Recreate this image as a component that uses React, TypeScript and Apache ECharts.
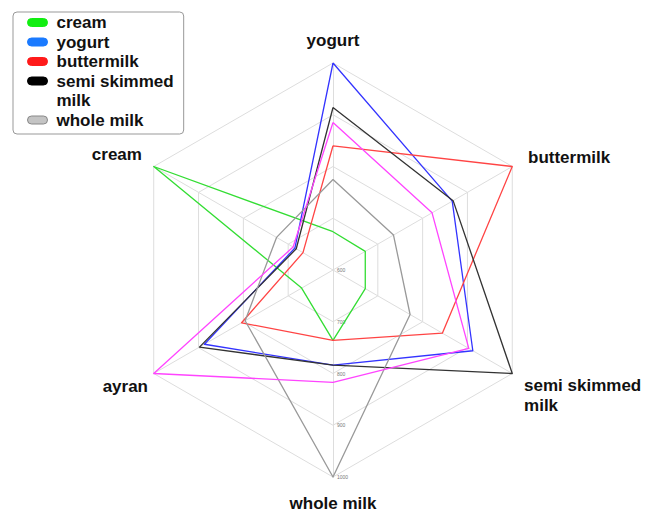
import React, { useEffect, useRef } from "react";
import * as echarts from "echarts";

const indicators = ["yogurt", "cream", "ayran", "whole milk", "semi skimmed\nmilk", "buttermilk"];
const tickMin = 600;
const tickMax = 1000;
const tickInterval = 100;

const seriesNames = ["cream", "yogurt", "buttermilk", "semi skimmed\nmilk", "whole milk", "ayran"];
// order of values: yogurt, cream, ayran, whole milk, semi skimmed milk, buttermilk
const creamValues = [674, 1000, 670, 736, 672, 672];
const yogurtValues = [1000, 685, 887, 784, 912, 866];
const buttermilkValues = [840, 667, 804, 736, 844, 1000];
const semiSkimmedValues = [914, 682, 898, 784, 1000, 868];
const wholeMilkValues = [775, 726, 796, 1000, 772, 735];
const ayranValues = [885, 689, 1000, 817, 903, 821];

const lineColors = ["#33dd33", "#3333ff", "#ff4444", "#333333", "#999999", "#ff44ff"];
const legendColors = ["#11ee11", "#1a7aff", "#ff1a1a", "#000000", "#c4c4c4"];

// per-indicator name placement
const nameGaps = [13, 13.6, 6.6, 16, 13.6, 18.2];
const nameFormats: Record<string, string> = {
  cream: "cream\n{e10| }",
  ayran: "{e20| }\nayran",
  "semi skimmed\nmilk": "{e30| }\nsemi skimmed\nmilk",
};

const FONT = "Liberation Sans, Arial, sans-serif";

export default function App() {
  const ref = useRef<HTMLDivElement>(null);
  useEffect(() => {
    document.body.style.margin = "0";
    const chart = echarts.init(ref.current!, null, { renderer: "svg" });
    const allValues = [creamValues, yogurtValues, buttermilkValues, semiSkimmedValues, wholeMilkValues, ayranValues];
    const capsule = "path://M4,0 L16,0 A4,4 0 0 1 16,8 L4,8 A4,4 0 0 1 4,0 Z";
    const legendText = {
      fontFamily: FONT,
      fontWeight: "bold",
      fontSize: 17,
      color: "#111",
      lineHeight: 19,
      padding: [0, 0, 0, 4],
    };
    const legendItem = (i: number) => ({
      name: seriesNames[i],
      itemStyle: { color: legendColors[i], borderColor: i === 4 ? "#888" : legendColors[i], borderWidth: 1 },
    });
    const nameStyle = {
      color: "#111",
      fontFamily: FONT,
      fontWeight: "bold",
      fontSize: 17,
      lineHeight: 20,
      rich: {
        e10: { lineHeight: 10, fontSize: 8 },
        e20: { lineHeight: 20, fontSize: 8 },
        e30: { lineHeight: 30, fontSize: 8 },
      },
    };
    chart.setOption({
      animation: false,
      backgroundColor: "#ffffff",
      legend: [
        {
          orient: "vertical",
          left: 13,
          top: 12,
          padding: [1, 10, 43.5, 14],
          itemGap: 0.5,
          itemWidth: 20,
          itemHeight: 8,
          icon: capsule,
          borderColor: "#999",
          borderWidth: 1,
          borderRadius: 4,
          backgroundColor: "#fff",
          textStyle: legendText,
          formatter: (name: string) => name.split("\n")[0],
          data: [0, 1, 2, 3].map(legendItem),
        },
        {
          orient: "vertical",
          left: 13,
          top: 91,
          padding: [0, 0, 0, 14],
          itemGap: 0.5,
          itemWidth: 20,
          itemHeight: 8,
          icon: capsule,
          textStyle: legendText,
          formatter: (name: string) => (name.includes("\n") ? name.split("\n")[1] : name),
          data: [
            { ...legendItem(3), icon: "none", itemStyle: { opacity: 0 } },
            legendItem(4),
          ],
        },
      ],
      radar: {
        center: [333, 270],
        radius: 207,
        startAngle: 90,
        splitNumber: 4,
        shape: "polygon",
        axisName: {
          ...nameStyle,
          formatter: (name: string) => nameFormats[name] ?? name,
        },
        splitLine: { lineStyle: { color: "#dddddd", width: 1 } },
        splitArea: { show: false },
        axisLine: { lineStyle: { color: "#dddddd", width: 1 } },
        axisLabel: { show: false },
        indicator: indicators.map((n, i) => ({
          name: n,
          min: tickMin,
          max: tickMax,
          interval: tickInterval,
          nameGap: nameGaps[i],
          ...(i === 3
            ? {
                axisLabel: {
                  show: true,
                  fontSize: 5,
                  color: "#777",
                  margin: 4,
                  showMinLabel: true,
                  showMaxLabel: true,
                  formatter: (v: number) => String(v),
                },
              }
            : {}),
        })),
      },
      series: [
        {
          type: "radar",
          symbol: "none",
          data: allValues.map((v, i) => ({
            name: seriesNames[i],
            value: v,
            lineStyle: { color: lineColors[i], width: 1.3 },
            itemStyle: { color: lineColors[i] },
          })),
        },
      ],
    });
    return () => chart.dispose();
  }, []);
  return <div ref={ref} style={{ width: 648, height: 511 }} />;
}
